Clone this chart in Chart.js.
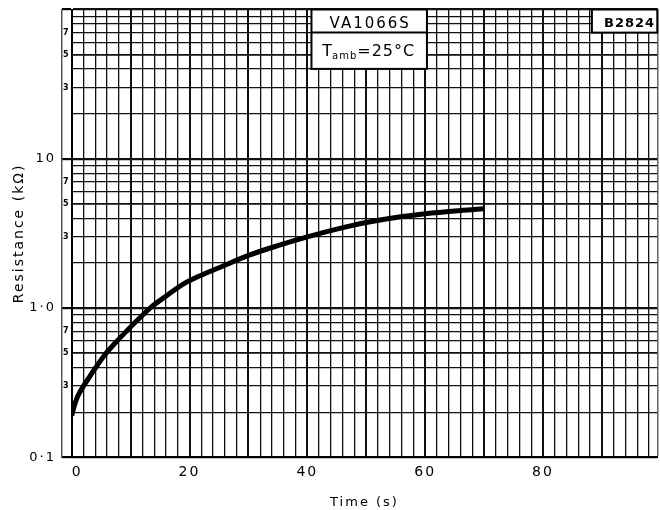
<!DOCTYPE html>
<html>
<head>
<meta charset="utf-8">
<script src="https://cdn.jsdelivr.net/npm/chart.js@4.4.1/dist/chart.umd.min.js"></script>
<style>
  html, body { margin: 0; padding: 0; background: #fff; }
  #wrap { width: 660px; height: 510px; }
</style>
</head>
<body>
<div id="wrap"><canvas id="c" width="660" height="510"></canvas></div>
<script>
// Resistance rise of the VA1066S after switch-on, ambient 25 °C
const timeS       = [0, 0.5, 1, 2, 3, 4, 5.7, 7.5, 9.3, 11.3, 13.3, 16, 19, 22, 25, 30, 35, 40, 45, 50, 55, 60, 65, 70];
const resistanceK = [0.19, 0.225, 0.255, 0.30, 0.345, 0.395, 0.49, 0.59, 0.70, 0.84, 1.0, 1.2, 1.45, 1.66, 1.86, 2.25, 2.62, 3.0, 3.38, 3.74, 4.04, 4.28, 4.47, 4.62];

// Axis labelling
const xLabelValues = [0, 20, 40, 60, 80];
const decadeValues = [0.1, 1, 10, 100];
const decadeText   = ['0·1', '1·0', '10', ''];
const minorMarks   = [3, 5, 7];

// Caption boxes
const partName   = 'VA1066S';
const ambientTxt = ['T', 'amb', '=25°C'];
const figureCode = 'B2824';

const X_MAX = 99.4;
const FONT = 'DejaVu Sans';

const mantissa = v => Math.round(v / Math.pow(10, Math.floor(Math.log10(v) + 1e-9)));
const isDecade = v => mantissa(v) === 1;

// white page behind the canvas + wide lettering like the stencil text
const pagePlugin = {
  id: 'page',
  beforeDraw(chart) {
    const ctx = chart.ctx;
    ctx.save();
    ctx.fillStyle = '#fff';
    ctx.fillRect(0, 0, chart.width, chart.height);
    ctx.restore();
    ctx.letterSpacing = '2px';
  },
  afterDraw(chart) { chart.ctx.letterSpacing = '0px'; }
};

// caption boxes drawn on the grid in data coordinates
const captionPlugin = {
  id: 'captions',
  afterDraw(chart) {
    const { ctx } = chart;
    const x = chart.scales.x, y = chart.scales.y;
    const rect = (x0, x1, y0, y1) => {
      const l = x.getPixelForValue(x0), r = x.getPixelForValue(x1);
      const t = y.getPixelForValue(y0), b = y.getPixelForValue(y1);
      ctx.fillStyle = '#fff';
      ctx.fillRect(l, t, r - l, b - t);
      ctx.strokeStyle = '#000';
      ctx.lineWidth = 2;
      ctx.strokeRect(l, t, r - l, b - t);
      ctx.fillStyle = '#000';
      return { l, r, t, b };
    };
    ctx.save();

    // part number / ambient temperature box
    const a = rect(40.7, 60.3, 100, 40);
    const mid = y.getPixelForValue(70);
    ctx.beginPath();
    ctx.moveTo(a.l, mid); ctx.lineTo(a.r, mid);
    ctx.stroke();
    ctx.textBaseline = 'alphabetic';
    ctx.textAlign = 'center';
    ctx.letterSpacing = '2px';
    ctx.font = `15px "${FONT}"`;
    ctx.fillText(partName, (a.l + a.r) / 2 + 1, a.t + 18);

    ctx.letterSpacing = '1px';
    ctx.textAlign = 'left';
    const big = `16px "${FONT}"`, small = `10px "${FONT}"`;
    ctx.font = big;   const w0 = ctx.measureText(ambientTxt[0]).width;
    ctx.font = small; const w1 = ctx.measureText(ambientTxt[1]).width;
    ctx.font = big;   const w2 = ctx.measureText(ambientTxt[2]).width;
    let px = (a.l + a.r) / 2 - (w0 + w1 + w2) / 2;
    const base = mid + 23;
    ctx.font = big;   ctx.fillText(ambientTxt[0], px, base); px += w0 - 1;
    ctx.font = small; ctx.fillText(ambientTxt[1], px, base + 3); px += w1;
    ctx.font = big;   ctx.fillText(ambientTxt[2], px, base);

    // figure code box
    const b = rect(88.3, X_MAX, 100, 70);
    ctx.font = `bold 13px "${FONT}"`;
    ctx.textAlign = 'center';
    ctx.fillText(figureCode, (b.l + b.r) / 2 + 5, b.t + 17);
    ctx.restore();
  }
};

new Chart(document.getElementById('c'), {
  type: 'line',
  data: {
    datasets: [{
      data: timeS.map((t, i) => ({ x: t, y: resistanceK[i] })),
      borderColor: '#000',
      borderWidth: 5,
      pointRadius: 0,
      cubicInterpolationMode: 'monotone',
      borderCapStyle: 'butt',
      xAxisID: 'x',
      yAxisID: 'y'
    }]
  },
  options: {
    responsive: false,
    animation: false,
    devicePixelRatio: 1,
    layout: { padding: { top: 9.5, right: 2.7, left: 0, bottom: 0 } },
    plugins: { legend: { display: false }, tooltip: { enabled: false } },
    scales: {
      x: {
        type: 'linear',
        position: 'bottom',
        min: 0,
        max: X_MAX,
        afterBuildTicks(s) {
          const t = [];
          for (let v = 0; v <= 98; v += 2) t.push({ value: v });
          t.push({ value: X_MAX });
          s.ticks = t;
        },
        afterFit(s) { s.height = 52.7; s.paddingLeft = 0; s.paddingRight = 0; },
        grid: {
          drawTicks: false,
          color(c) { return c.tick && c.tick.value === X_MAX ? '#666' : '#111'; },
          lineWidth(c) {
            const v = c.tick ? c.tick.value : 0;
            if (v === X_MAX) return 1.5;
            return v % 10 === 0 ? 2 : 1.3;
          }
        },
        border: { display: true, color: '#000', width: 2 },
        ticks: {
          autoSkip: false,
          maxRotation: 0,
          padding: 7,
          color: '#000',
          font: { family: FONT, size: 14 },
          callback(v) {
            if (!xLabelValues.includes(v)) return '';
            return v === 0 ? '\u20070' : String(v);
          }
        },
        title: {
          display: true,
          text: 'Time (s)',
          color: '#000',
          font: { family: FONT, size: 13 },
          padding: { top: 0, bottom: 0 }
        }
      },
      y: {
        type: 'logarithmic',
        position: 'left',
        weight: 0,
        min: 0.1,
        max: 100,
        afterBuildTicks(s) {
          const t = [];
          for (let e = -1; e <= 1; e++)
            for (let m = 1; m <= 9; m++) t.push({ value: +(m * Math.pow(10, e)).toPrecision(3) });
          t.push({ value: 100 });
          s.ticks = t;
        },
        afterFit(s) { s.width = 9.7; s.paddingTop = 0; s.paddingBottom = 0; },
        grid: {
          drawTicks: true,
          tickLength: 9.7,
          color: '#111',
          lineWidth(c) {
            const v = c.tick ? c.tick.value : 1;
            if (isDecade(v)) return 2.2;
            return mantissa(v) === 5 ? 1.8 : 1.3;
          },
          tickColor(c) {
            const v = c.tick ? c.tick.value : 1;
            return isDecade(v) ? '#000' : 'rgba(0,0,0,0)';
          }
        },
        border: { display: true, color: '#000', width: 2 },
        ticks: {
          padding: -8.5,
          color: '#000',
          font: { family: FONT, size: 8, weight: 'bold' },
          callback(v) {
            const m = mantissa(v);
            return minorMarks.includes(m) ? String(m) : '';
          }
        }
      },
      yDecades: {
        type: 'logarithmic',
        position: 'left',
        weight: 1,
        min: 0.1,
        max: 100,
        afterBuildTicks(s) { s.ticks = decadeValues.map(v => ({ value: v })); },
        afterFit(s) { s.width = 62; s.paddingTop = 0; s.paddingBottom = 0; },
        grid: { display: true, drawOnChartArea: false, drawTicks: false, color: 'rgba(0,0,0,0)' },
        border: { display: true, color: '#555', width: 1.5 },
        ticks: {
          padding: 6,
          color: '#000',
          font: { family: FONT, size: 13 },
          callback(v) {
            const i = decadeValues.findIndex(d => Math.abs(d - v) < 1e-9);
            return i >= 0 ? decadeText[i] : '';
          }
        },
        title: {
          display: true,
          text: 'Resistance (kΩ)',
          color: '#000',
          font: { family: FONT, size: 14 },
          padding: { top: 11, bottom: 0 }
        }
      }
    }
  },
  plugins: [pagePlugin, captionPlugin]
});
</script>
</body>
</html>
